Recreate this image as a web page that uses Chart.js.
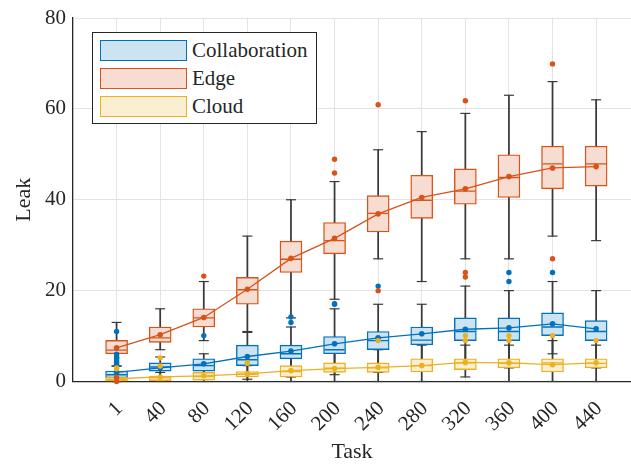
<!DOCTYPE html>
<html>
<head>
<meta charset="utf-8">
<script src="https://cdn.jsdelivr.net/npm/chart.js@4.4.1/dist/chart.umd.min.js"></script>
<style>
  body { margin: 0; background: #fff; }
  #wrap { position: relative; width: 631px; height: 464px; }
  #legend {
    position: absolute; left: 92px; top: 32px; width: 223px; height: 90px;
    border: 1px solid #262626; background: #fff;
    font-family: "Liberation Serif", "Times New Roman", serif; font-size: 21px; color: #262626;
  }
  .item { position: absolute; left: 7px; height: 21px; display: flex; align-items: center; white-space: nowrap; }
  .swatch { width: 85px; height: 19px; border: 1px solid; margin-right: 5px; }
</style>
</head>
<body>
<div id="wrap">
  <canvas id="leakChart" width="631" height="464"></canvas>
  <div id="legend"></div>
</div>
<script>
// tasks on the x axis
const tasks = ["1", "40", "80", "120", "160", "200", "240", "280", "320", "360", "400", "440"];

// Collaboration
const collabLow = [0.0, 0.5, 0.5, 0.5, 1.0, 1.5, 2.0, 4.1, 3.0, 3.0, 6.1, 3.0];
const collabQ1 = [0.8, 2.3, 2.3, 3.5, 5.0, 6.1, 7.0, 8.1, 9.0, 9.0, 10.1, 9.0];
const collabMedian = [1.5, 3.2, 3.5, 4.8, 6.1, 7.0, 9.0, 9.1, 11.0, 11.0, 12.0, 11.0];
const collabQ3 = [2.3, 4.1, 5.0, 8.0, 8.0, 9.9, 11.0, 12.0, 14.0, 14.0, 15.1, 13.4];
const collabHigh = [3.4, 5.4, 6.1, 10.8, 12.0, 16.0, 17.0, 17.0, 21.0, 20.0, 22.0, 20.0];
const collabMean = [2.0, 3.0, 3.9, 5.5, 6.7, 8.3, 9.6, 10.5, 11.5, 11.8, 12.7, 11.6];
const collabOutliers = [
  ["1", 11.0], ["1", 6.0], ["1", 5.5], ["1", 5.2], ["1", 5.0], ["1", 4.5], ["1", 4.2], ["1", 3.8],
  ["80", 10.1], ["160", 14.2], ["160", 13.0], ["200", 17.0], ["200", 17.1],
  ["240", 21.0], ["360", 24.0], ["360", 22.0], ["400", 24.0],
];

// Edge
const edgeLow = [3.4, 7.0, 9.0, 11.0, 14.0, 18.1, 27.0, 22.0, 27.0, 27.0, 32.0, 31.0];
const edgeQ1 = [6.1, 8.6, 12.0, 17.0, 24.0, 28.1, 32.9, 35.9, 39.0, 40.5, 42.4, 43.0];
const edgeMedian = [6.9, 9.6, 14.0, 20.2, 26.9, 31.0, 37.0, 39.9, 41.9, 44.9, 47.9, 47.9];
const edgeQ3 = [9.05, 12.0, 16.0, 22.9, 30.9, 35.0, 40.9, 45.4, 46.8, 49.9, 51.8, 51.8];
const edgeHigh = [13.0, 16.0, 22.0, 32.0, 40.0, 44.0, 51.0, 55.0, 59.0, 63.0, 66.0, 62.0];
const edgeMean = [7.4, 10.3, 14.1, 20.3, 27.1, 31.5, 36.9, 40.5, 42.4, 45.1, 47.0, 47.3];
const edgeOutliers = [
  ["1", 0.9], ["1", 0.0], ["80", 23.2], ["200", 48.9], ["200", 45.9],
  ["240", 60.9], ["240", 20.0], ["320", 61.8], ["320", 24.0], ["320", 23.0],
  ["400", 69.9], ["400", 27.0],
];

// Cloud
const cloudLow = [0, 0, 0, 0, 0, 0, 0, 0, 1.0, 0, 0, 0];
const cloudQ1 = [0.1, 0.2, 0.3, 1.0, 1.0, 2.0, 2.0, 2.1, 2.6, 3.0, 2.1, 3.0];
const cloudMedian = [0.5, 0.8, 1.1, 1.6, 2.2, 2.9, 3.0, 3.5, 4.1, 4.0, 4.1, 4.0];
const cloudQ3 = [1.0, 1.2, 2.0, 2.2, 3.5, 4.1, 4.1, 5.0, 5.0, 5.0, 5.0, 5.0];
const cloudHigh = [1.5, 2.0, 3.0, 3.5, 6.0, 6.9, 7.0, 8.0, 8.0, 8.0, 9.0, 8.0];
const cloudMean = [0.6, 1.0, 1.25, 1.7, 2.4, 2.85, 3.1, 3.5, 4.2, 4.1, 3.7, 4.1];
const cloudOutliers = [
  ["1", 3.0], ["1", 2.8], ["40", 5.2], ["40", 3.4], ["120", 4.1], ["120", 4.0],
  ["240", 9.0], ["320", 10.1], ["320", 9.0], ["360", 10.1], ["360", 9.0],
  ["400", 10.1], ["440", 9.0],
];

const blue = "#0072BD";
const orange = "#D95319";
const yellow = "#EDB120";
const whiskerColor = "#3a3a3a";
const axisColor = "#262626";
const gridColor = "#e3e3e3";
const serif = "'Liberation Serif', 'Times New Roman', serif";

// box positions are the task index (1..12)
const pos = tasks.map((t, i) => i + 1);
const xy = (vals) => vals.map((v, i) => ({ x: pos[i], y: v }));
const outXY = (list) => list.map(([t, v]) => ({ x: tasks.indexOf(t) + 1, y: v }));

function boxSeries(name, color, fill, low, q1, median, q3, high, mean, outliers) {
  return [
    {
      type: "bar", label: name + " whisker",
      data: pos.map((x, i) => ({ x, y: [low[i], high[i]] })),
      backgroundColor: whiskerColor, barThickness: 1.1, grouped: false, order: 5,
    },
    {
      type: "line", label: name + " caps",
      data: [...xy(low), ...xy(high)],
      showLine: false, pointStyle: "line", pointRadius: 5,
      pointBorderColor: whiskerColor, pointBorderWidth: 1.2, clip: false, order: 4,
    },
    {
      type: "bar", label: name,
      data: pos.map((x, i) => ({ x, y: [q1[i], q3[i]] })),
      backgroundColor: fill, borderColor: color, borderWidth: 1.4, borderSkipped: false,
      barThickness: 22, grouped: false, order: 3,
    },
    {
      type: "line", label: name + " median",
      data: xy(median),
      showLine: false, pointStyle: "line", pointRadius: 10,
      pointBorderColor: color, pointBorderWidth: 1.4, order: 2,
    },
    {
      type: "line", label: name + " mean",
      data: xy(mean),
      borderColor: color, borderWidth: 1.3, tension: 0,
      pointRadius: 2.8, pointBackgroundColor: color, pointBorderWidth: 0, order: 1,
    },
    {
      type: "line", label: name + " outliers",
      data: outXY(outliers),
      showLine: false, pointRadius: 2.7, pointBackgroundColor: color,
      pointBorderWidth: 0, clip: false, order: 0,
    },
  ];
}

const datasets = [
  ...boxSeries("Cloud", yellow, "#fbefd2", cloudLow, cloudQ1, cloudMedian, cloudQ3, cloudHigh, cloudMean, cloudOutliers),
  ...boxSeries("Edge", orange, "#f7ddd1", edgeLow, edgeQ1, edgeMedian, edgeQ3, edgeHigh, edgeMean, edgeOutliers),
  ...boxSeries("Collaboration", blue, "#cce3f2", collabLow, collabQ1, collabMedian, collabQ3, collabHigh, collabMean, collabOutliers),
];

new Chart(document.getElementById("leakChart"), {
  type: "bar",
  data: { datasets },
  options: {
    responsive: false,
    animation: false,
    devicePixelRatio: 1,
    events: [],
    layout: { autoPadding: false, padding: { top: 18, right: 0, bottom: 0, left: 0 } },
    plugins: { legend: { display: false }, tooltip: { enabled: false } },
    scales: {
      x: {
        type: "linear",
        min: 0,
        max: 12.8,
        offset: false,
        afterBuildTicks: (scale) => {
          scale.ticks = pos.map((v) => ({ value: v }));
        },
        // keep the plot area from x=73 to the right edge
        afterFit: (scale) => {
          scale.height = 82.5;
          scale.paddingLeft = 0;
          scale.paddingRight = 0;
        },
        grid: { color: gridColor, lineWidth: 1, drawTicks: false, offset: false },
        border: { color: axisColor, width: 1.3 },
        ticks: {
          callback: (v) => tasks[v - 1],
          autoSkip: false,
          maxRotation: 45,
          minRotation: 45,
          padding: 15,
          labelOffset: 3,
          color: axisColor,
          font: { family: serif, size: 21 },
        },
        title: {
          display: true, text: "Task", color: axisColor,
          font: { family: serif, size: 22, lineHeight: 1 },
          padding: { top: 0, bottom: 1 },
        },
      },
      y: {
        min: 0,
        max: 80,
        afterFit: (scale) => {
          scale.width = 73;
          scale.paddingTop = 0;
          scale.paddingBottom = 0;
        },
        grid: { color: gridColor, lineWidth: 1, drawTicks: false },
        border: { color: axisColor, width: 1.3 },
        ticks: {
          stepSize: 20,
          padding: 7,
          color: axisColor,
          font: { family: serif, size: 21 },
        },
        title: {
          display: true, text: "Leak", color: axisColor,
          font: { family: serif, size: 22, lineHeight: 1 },
          padding: { top: 13, bottom: 0 },
        },
      },
    },
  },
});

// legend box in the upper left corner
const legendItems = [
  { name: "Collaboration", color: blue, fill: "#cce3f2" },
  { name: "Edge", color: orange, fill: "#f7ddd1" },
  { name: "Cloud", color: yellow, fill: "#fbefd2" },
];
const legendDiv = document.getElementById("legend");
legendItems.forEach((item, i) => {
  const row = document.createElement("div");
  row.className = "item";
  row.style.top = 7 + i * 28 + "px";
  row.innerHTML = `<span class="swatch" style="background:${item.fill};border-color:${item.color}"></span><span>${item.name}</span>`;
  legendDiv.appendChild(row);
});
</script>
</body>
</html>
